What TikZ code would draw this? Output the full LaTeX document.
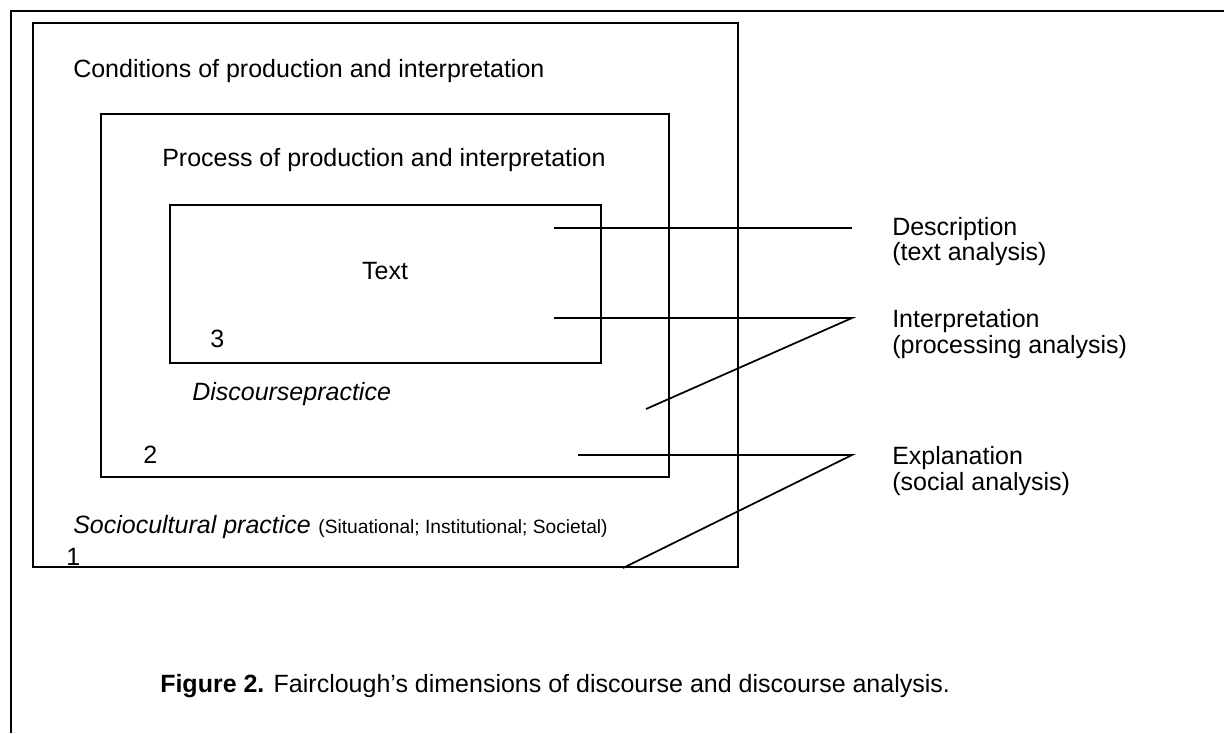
\documentclass[tikz,border=0pt]{standalone}
\usepackage{fontspec}
\setmainfont{Liberation Sans}
\usetikzlibrary{calc}
\tikzset{
  frm/.style={line width=1.4pt},
  box/.style={line width=1.3pt},
  conn/.style={line width=1.3pt},
  lbl/.style={anchor=base west,inner sep=0pt,font=\fontsize{18.75}{22}\selectfont},
  ital/.style={lbl,font=\fontsize{18.75}{22}\selectfont\itshape},
  sml/.style={anchor=base west,inner sep=0pt,font=\fontsize{14.4}{17}\selectfont}
}
\begin{document}
\begin{tikzpicture}[x=0.75pt,y=-0.75pt]
\useasboundingbox (0,0) rectangle (1224,733);
% frame round everything
\draw[frm] (11,733) -- (11,11) -- (1224,11);
% nested boxes
\draw[box] (33,23) rectangle (738,567);
\draw[box] (101,114) rectangle (669,477);
\draw[box] (170,205) rectangle (601,363);
% texts in the boxes
\node[lbl] (cond) at (73,77) {Conditions of production and interpretation};
\node[lbl] (proc) at (162,166) {Process of production and interpretation};
\node[lbl,anchor=base] (text) at (385,279) {Text};
\node[lbl] (three) at (210,347) {3};
\node[ital] (disc) at (192,400) {Discoursepractice};
\node[lbl] (two) at (143,463) {2};
\node[ital] (socio) at (73,533) {Sociocultural practice};
\node[sml] (sit) at ($(socio.base east)+(7,0)$) {(Situational; Institutional; Societal)};
\node[lbl] (one) at (66,565) {1};
% labels on the right
\node[lbl] (desc) at (892,235) {Description};
\node[lbl] (desca) at (892,260) {(text analysis)};
\node[lbl] (intp) at (892,327) {Interpretation};
\node[lbl] (intpa) at (892,353) {(processing analysis)};
\node[lbl] (expl) at (892,464) {Explanation};
\node[lbl] (expla) at (892,490) {(social analysis)};
% connectors
\coordinate (d1) at (554,228); \coordinate (d2) at (852,228);
\coordinate (i1) at (554,318); \coordinate (i2) at (852,318); \coordinate (i3) at (646,409);
\coordinate (e1) at (578,455); \coordinate (e2) at (852,455); \coordinate (e3) at (623,568);
\draw[conn] (d1) -- (d2);
\draw[conn] (i1) -- (i2) -- (i3);
\draw[conn] (e1) -- (e2) -- (e3);
% caption
\node[lbl] (cap) at (160,692) {\textbf{Figure 2.} Fairclough’s dimensions of discourse and discourse analysis.};
\end{tikzpicture}
\end{document}
